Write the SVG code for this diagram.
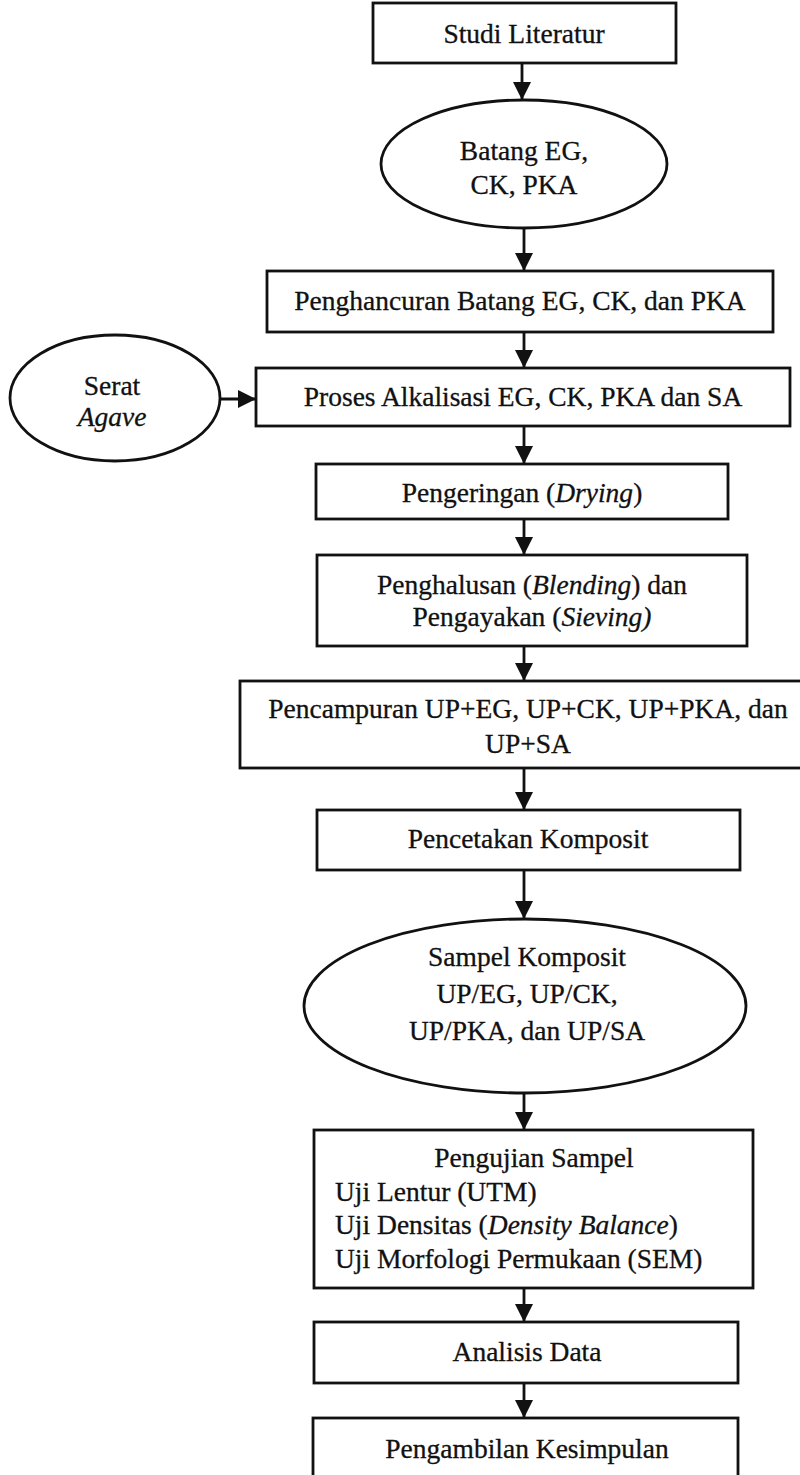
<svg xmlns="http://www.w3.org/2000/svg" width="800" height="1475" viewBox="0 0 800 1475">
<defs>
<style>
.b{fill:#fff;stroke:#111;stroke-width:2.8}
.t{font-family:"Liberation Serif","Times New Roman",serif;font-size:27.5px;fill:#111;text-anchor:middle;stroke:#111;stroke-width:0.3}
.l{text-anchor:start}
.c{stroke:#111;stroke-width:2.8;fill:none;marker-end:url(#ah)}
</style>
<marker id="ah" markerUnits="userSpaceOnUse" markerWidth="20" markerHeight="20" refX="18" refY="9" orient="auto">
<path d="M0,0 L18,9 L0,18 z" fill="#111"/>
</marker>
</defs>
<rect width="800" height="1475" fill="#fff"/>
<g id="connectors">
<line class="c" x1="522" y1="63" x2="522" y2="100"/>
<line class="c" x1="524" y1="228" x2="524" y2="271"/>
<line class="c" x1="524" y1="332" x2="524" y2="368"/>
<line class="c" x1="220" y1="399" x2="256" y2="399"/>
<line class="c" x1="524" y1="426" x2="524" y2="464"/>
<line class="c" x1="524" y1="519" x2="524" y2="555"/>
<line class="c" x1="524" y1="646" x2="524" y2="681"/>
<line class="c" x1="524" y1="768" x2="524" y2="810"/>
<line class="c" x1="524" y1="870" x2="524" y2="919"/>
<line class="c" x1="524" y1="1093" x2="524" y2="1130"/>
<line class="c" x1="524" y1="1288" x2="524" y2="1322"/>
<line class="c" x1="524" y1="1383" x2="524" y2="1418"/>
</g>
<g id="studi"><rect class="b" x="373" y="3" width="303" height="60"/><text class="t" x="524" y="43">Studi Literatur</text></g>
<g id="batang"><ellipse class="b" cx="524" cy="164" rx="143" ry="64"/><text class="t" x="524" y="160">Batang EG,</text><text class="t" x="524" y="194">CK, PKA</text></g>
<g id="penghancuran"><rect class="b" x="267" y="271" width="506" height="61"/><text class="t" x="520" y="310">Penghancuran Batang EG, CK, dan PKA</text></g>
<g id="serat"><ellipse class="b" cx="115" cy="398" rx="105" ry="63"/><text class="t" x="112" y="395">Serat</text><text class="t" x="112" y="426" font-style="italic">Agave</text></g>
<g id="proses"><rect class="b" x="256" y="368" width="534" height="58"/><text class="t" x="523" y="406">Proses Alkalisasi EG, CK, PKA dan SA</text></g>
<g id="pengeringan"><rect class="b" x="316" y="464" width="412" height="55"/><text class="t" x="522" y="502">Pengeringan (<tspan font-style="italic">Drying</tspan>)</text></g>
<g id="penghalusan"><rect class="b" x="317" y="555" width="430" height="91"/><text class="t" x="532" y="594">Penghalusan (<tspan font-style="italic">Blending</tspan>) dan</text><text class="t" x="532" y="626">Pengayakan (<tspan font-style="italic">Sieving)</tspan></text></g>
<g id="pencampuran"><rect class="b" x="240" y="681" width="575" height="87"/><text class="t" x="528" y="718">Pencampuran UP+EG, UP+CK, UP+PKA, dan</text><text class="t" x="528" y="753">UP+SA</text></g>
<g id="pencetakan"><rect class="b" x="317" y="810" width="423" height="60"/><text class="t" x="528" y="848">Pencetakan Komposit</text></g>
<g id="sampel"><ellipse class="b" cx="525" cy="1006" rx="221" ry="87"/><text class="t" x="527" y="966">Sampel Komposit</text><text class="t" x="527" y="1003">UP/EG, UP/CK,</text><text class="t" x="527" y="1040">UP/PKA, dan UP/SA</text></g>
<g id="pengujian"><rect class="b" x="314" y="1130" width="439" height="158"/><text class="t" x="534" y="1167">Pengujian Sampel</text><text class="t l" x="335" y="1201">Uji Lentur (UTM)</text><text class="t l" x="335" y="1234">Uji Densitas (<tspan font-style="italic">Density Balance</tspan>)</text><text class="t l" x="335" y="1268">Uji Morfologi Permukaan (SEM)</text></g>
<g id="analisis"><rect class="b" x="314" y="1322" width="424" height="61"/><text class="t" x="527" y="1361">Analisis Data</text></g>
<g id="pengambilan"><rect class="b" x="313" y="1418" width="425" height="70"/><text class="t" x="527" y="1458">Pengambilan Kesimpulan</text></g>
</svg>
